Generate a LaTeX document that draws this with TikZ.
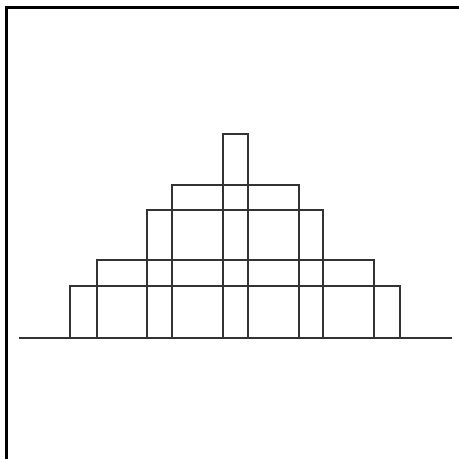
\documentclass[tikz,border=0pt]{standalone}
\usepackage{tikz}
\tikzset{
  frameline/.style={line width=3pt, draw=black},
  ground/.style={line width=1.8pt, draw=black!80},
  block/.style={line width=1.8pt, draw=black!80}
}

\begin{document}
\begin{tikzpicture}[x=1pt, y=-1pt]
    \useasboundingbox (0,0) rectangle (459,459);
    % frame on the left and top
    \draw[frameline] (6,459) -- (6,7.5) -- (459,7.5);

    % ground line
    \coordinate (gl) at (19,337.7);
    \coordinate (gr) at (451.7,337.7);
    \draw[ground] (gl) -- (gr);

    % stacked blocks: left, right, top
    \foreach \xl/\xr/\yt in {69.7/400.3/286, 96.7/374/260, 146.7/323.3/210,
                             171.7/298.7/185, 222.7/247.7/134.3}
      \draw[block] (\xl,337.7) -- (\xl,\yt) -- (\xr,\yt) -- (\xr,337.7);
  \end{tikzpicture}
\end{document}
